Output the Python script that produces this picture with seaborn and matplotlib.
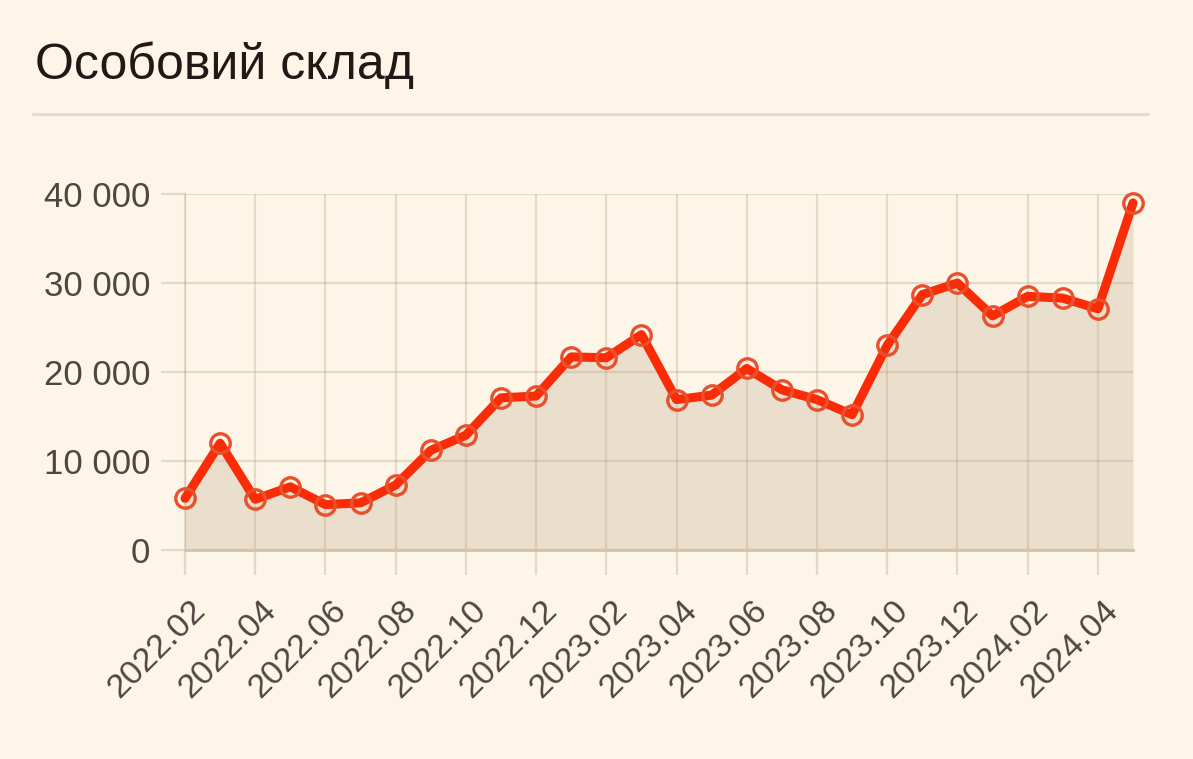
import numpy as np
import pandas as pd
import matplotlib.pyplot as plt
import matplotlib.transforms as mtransforms
from matplotlib.lines import Line2D
import seaborn as sns

# Monthly values
months = ['2022.02', '2022.03', '2022.04', '2022.05', '2022.06', '2022.07', '2022.08',
          '2022.09', '2022.10', '2022.11', '2022.12', '2023.01', '2023.02', '2023.03',
          '2023.04', '2023.05', '2023.06', '2023.07', '2023.08', '2023.09', '2023.10',
          '2023.11', '2023.12', '2024.01', '2024.02', '2024.03', '2024.04', '2024.05']
personnel = [5800, 12000, 5700, 7100, 5100, 5300, 7300,
             11200, 12900, 17100, 17300, 21700, 21600, 24200,
             16900, 17400, 20400, 18000, 16900, 15200, 23000,
             28700, 30000, 26300, 28500, 28300, 27100, 39000]
y_ticks = [0, 10000, 20000, 30000, 40000]
y_labels = ['0', '10 000', '20 000', '30 000', '40 000']
title = 'Особовий склад'

df = pd.DataFrame({'month': months, 'value': personnel})
df['pos'] = np.arange(len(df))

bg = '#FDF5E8'
fill_color = '#EADFCC'
grid_color = '#B8A383'
grid_alpha = 0.32
tick_color = '#E4D9C6'
text_color = '#4D4641'

sns.set_theme(style='white', rc={'figure.facecolor': bg, 'axes.facecolor': bg,
                                 'savefig.facecolor': bg})
plt.rcParams['font.family'] = ['Liberation Sans', 'DejaVu Sans']

W, H = 1193, 759
fig = plt.figure(figsize=(W / 100, H / 100), dpi=100)
ax = fig.add_axes([185 / W, 1 - 550 / H, (1133 - 185) / W, (550 - 194) / H])

ax.fill_between(df['pos'], df['value'], 0, color=fill_color, linewidth=0, zorder=1)
sns.lineplot(data=df, x='pos', y='value', ax=ax, color='#FA2C08', linewidth=6.5,
             marker='o', markersize=14, markerfacecolor='none',
             markeredgecolor='#E8502E', markeredgewidth=2.4, clip_on=False, zorder=5)

ax.set_xlim(0, len(months) - 1)
ax.set_ylim(0, 40000)
ax.set_xticks(df['pos'][::2])
ax.set_xticklabels(df['month'][::2])
ax.set_yticks(y_ticks)
ax.set_yticklabels(y_labels)
ax.set_xlabel('')
ax.set_ylabel('')

ax.set_axisbelow('line')
ax.grid(True, color=grid_color, alpha=grid_alpha, linewidth=1.6)
for side in ['top', 'right']:
    ax.spines[side].set_visible(False)
ax.spines['left'].set_color(grid_color)
ax.spines['left'].set_alpha(grid_alpha)
ax.spines['left'].set_linewidth(1.6)
ax.spines['bottom'].set_color('#D2C4AC')
ax.spines['bottom'].set_linewidth(2)
ax.spines['bottom'].set_zorder(3)

ax.tick_params(axis='y', left=True, length=17, width=1.6, color=tick_color, pad=8,
               labelsize=25, labelcolor=text_color)
ax.tick_params(axis='x', bottom=True, length=18, width=1.6, color=tick_color, pad=22,
               labelsize=24.5, labelcolor=text_color)
shift = mtransforms.ScaledTranslation(16 / 100, 0, fig.dpi_scale_trans)
for lab in ax.get_xticklabels():
    lab.set_rotation(45)
    lab.set_rotation_mode('anchor')
    lab.set_ha('right')
    lab.set_va('center')
    lab.set_transform(lab.get_transform() + shift)

fig.text(35 / W, 1 - 79 / H, title, fontsize=36, color='#231815', va='baseline', ha='left')
fig.add_artist(Line2D([33 / W, 1148 / W], [1 - 114 / H, 1 - 114 / H],
                      color='#E6DCCB', linewidth=2.2))

plt.savefig('out.png', dpi=100)
